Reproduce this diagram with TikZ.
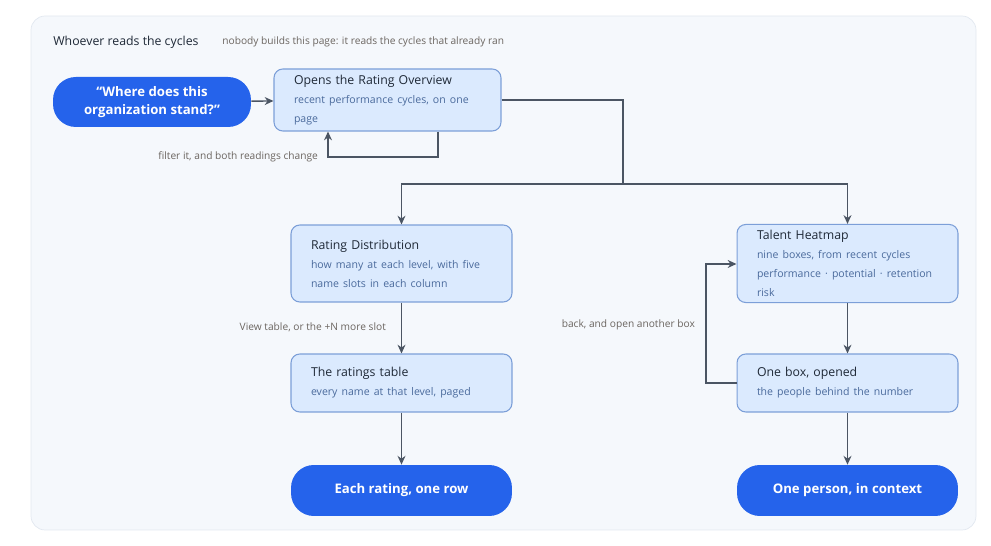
\documentclass[tikz,border=0pt]{standalone}
\usepackage{fontspec}
\setmainfont{Open Sans}
\usetikzlibrary{arrows.meta,positioning}
\definecolor{PanelBg}{HTML}{F5F8FC}
\definecolor{PanelLine}{HTML}{E2E8F0}
\definecolor{BoxFill}{HTML}{DBEAFE}
\definecolor{BoxLine}{HTML}{7C9FD8}
\definecolor{PillBlue}{HTML}{2563EB}
\definecolor{InkDark}{HTML}{1F2937}
\definecolor{InkSub}{HTML}{4A6A9C}
\definecolor{InkNote}{HTML}{6B6560}
\definecolor{Wire}{HTML}{4B5563}
\tikzset{
    stage/.style = {draw=BoxLine, fill=BoxFill, rounded corners=5pt, line width=.6pt,
        inner xsep=0.4cm, align=left, text=InkDark,
        font=\fontsize{7}{10.8}\selectfont},
    pill/.style = {fill=PillBlue, rounded corners=13pt, text=white, align=center,
        font=\fontsize{7.5}{10}\selectfont\bfseries},
    note/.style = {text=InkNote, font=\fontsize{5.8}{7}\selectfont, inner sep=1pt},
    wire/.style = {draw=Wire, line width=.8pt, -{Stealth[length=5pt,width=4.5pt]}},
    line/.style = {draw=Wire, line width=.8pt}
}
\newcommand{\subline}[1]{\\{\color{InkSub}\fontsize{6}{10.8}\selectfont #1}}
\begin{document}
\begin{tikzpicture}[x=0.02cm,y=-0.02cm]
    \useasboundingbox (0,0) rectangle (991,546);
    \draw[PanelLine, fill=PanelBg, rounded corners=8pt] (31,16) rectangle (976,530);
    \node[anchor=west, text=InkDark, font=\fontsize{7}{8}\selectfont, inner sep=0] (title) at (53,42) {Whoever reads the cycles};
    \node[note, anchor=west, inner sep=0] (subtitle) at (222,42) {nobody builds this page: it reads the cycles that already ran};
    % top row
    \node[pill, minimum width=3.96cm, minimum height=1cm] (ask) at (152,102) {“Where does this\\organization stand?”};
    \node[stage, minimum height=1.24cm, text width=3.74cm] (overview) at (387.5,100)
        {Opens the Rating Overview\subline{recent performance cycles, on one page}};
    \draw[wire] (ask) -- (overview);
    \coordinate (loopA) at (438,157);
    \coordinate (loopB) at (328,157);
    \draw[wire] (overview.south -| loopA) -- (loopA) -- (loopB) -- (overview.south -| loopB);
    \node[note, anchor=east] (filter) at (320,157) {filter it, and both readings change};
    % left column
    \node[stage, minimum height=1.54cm, text width=3.62cm] (distrib) at (401.5,263.5)
        {Rating Distribution\subline{how many at each level, with five\\name slots in each column}};
    \node[stage, minimum height=1.16cm, text width=3.62cm] (table) at (401.5,383)
        {The ratings table\subline{every name at that level, paged}};
    \node[pill, minimum width=4.42cm, minimum height=1.02cm] (row) at (401.5,490.5) {Each rating, one row};
    % right column
    \node[stage, minimum height=1.54cm, text width=3.62cm] (heatmap) at (847.5,263.5)
        {Talent Heatmap\subline{nine boxes, from recent cycles\\performance · potential · retention risk}};
    \node[stage, minimum height=1.16cm, text width=3.62cm] (onebox) at (847.5,383)
        {One box, opened\subline{the people behind the number}};
    \node[pill, minimum width=4.42cm, minimum height=1.02cm] (person) at (847.5,490.5) {One person, in context};
    % split
    \coordinate (turn) at (623,100);
    \coordinate (split) at (623,184);
    \draw[line] (overview.east |- turn) -- (turn) -- (split);
    \draw[wire] (split) -- (split -| distrib) -- (distrib.north);
    \draw[wire] (split) -- (split -| heatmap) -- (heatmap.north);
    \draw[wire] (distrib) -- (table);
    \node[note, anchor=east] (viewtable) at (388,327) {View table, or the +N more slot};
    \draw[wire] (table) -- (row);
    \draw[wire] (heatmap) -- (onebox);
    \draw[wire] (onebox) -- (person);
    \coordinate (backA) at (706,383);
    \coordinate (backB) at (706,264);
    \draw[wire] (onebox.west |- backA) -- (backA) -- (backB) -- (heatmap.west |- backB);
    \node[note, anchor=east] (back) at (697,325) {back, and open another box};
\end{tikzpicture}
\end{document}
